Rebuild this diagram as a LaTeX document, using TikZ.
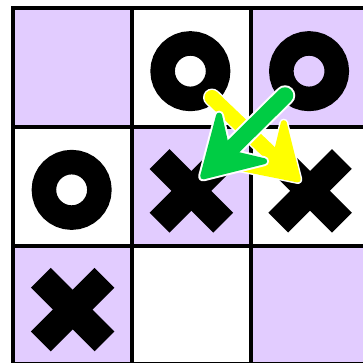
\documentclass[tikz,border=0pt]{standalone}
\usepackage{tikz}
\usetikzlibrary{calc}
\definecolor{lilas}{RGB}{226,204,255}
\definecolor{vertF}{RGB}{0,204,68}
\definecolor{jauneF}{RGB}{255,255,0}
\tikzset{
  cellule/.style={rectangle, fill=#1, minimum size=118.7pt, inner sep=0pt, outer sep=0pt},
  grille/.style={draw=black, line width=4pt},
  rond/.style={draw=black, line width=24.5pt},
  croix/.style={draw=black, line width=28pt},
}
% #1 couleur, #2 contour, #3 largeur, #4 recul des ailes, #5 demi-ouverture,
% #6 recul de l'encoche, #7 depart, #8 pointe
\newcommand{\grossefleche}[8]{%
  \coordinate (t) at ($(#8)!3pt!(#7)$);
  \coordinate (n) at ($(#8)!#6!(#7)$);
  \coordinate (b) at ($(#8)!#4!(#7)$);
  \coordinate (g) at ($(b)!#5!90:(#8)$);
  \coordinate (d) at ($(b)!#5!-90:(#8)$);
  \draw[white, line width=#3+2*#2, line cap=round] (#7) -- (n);
  \filldraw[white, line width=6pt+2*#2, line join=round] (t) -- (g) -- (n) -- (d) -- cycle;
  \draw[#1, line width=#3, line cap=round] (#7) -- (n);
  \filldraw[#1, line width=6pt, line join=round] (t) -- (g) -- (n) -- (d) -- cycle;
}

\begin{document}
\begin{tikzpicture}[x=1pt, y=-1pt]
  \clip (0,0) rectangle (363,362);
  \fill[white] (0,0) rectangle (363,362);
  % cases
  \foreach \r/\c/\teinte in {0/0/lilas, 0/1/white, 0/2/lilas,
                             1/0/white, 1/1/lilas, 1/2/white,
                             2/0/lilas, 2/1/white, 2/2/lilas}
    \node[cellule=\teinte] (c\r\c) at ({13.3+118.7*(\c+0.5)},{8.3+118.7*(\r+0.5)}) {};
  \foreach \r in {0,1,2} \foreach \c in {0,1,2}
    \draw[grille] (c\r\c.north west) rectangle (c\r\c.south east);
  % ronds
  \foreach \cel in {c01,c02,c10}
    \draw[rond] ($(\cel)+(-1,3.5)$) circle[radius=27.75];
  % croix
  \foreach \cel in {c11,c12,c20}{
    \begin{scope}[shift={($(\cel)+(0,4.5)$)}]
      \draw[croix] (-31.8,-31.8) -- (31.8,31.8);
      \draw[croix] (-31.8,31.8) -- (31.8,-31.8);
    \end{scope}
  }
  % fleches
  \coordinate (jDep) at (212,97.5);
  \coordinate (jPte) at (300,181.5);
  \coordinate (vDep) at (285,95.5);
  \coordinate (vPte) at (201,178.5);
  \grossefleche{jauneF}{1.5pt}{15pt}{52pt}{31pt}{34pt}{jDep}{jPte}
  \grossefleche{vertF}{2pt}{16.5pt}{57pt}{32pt}{37pt}{vDep}{vPte}
\end{tikzpicture}
\end{document}
